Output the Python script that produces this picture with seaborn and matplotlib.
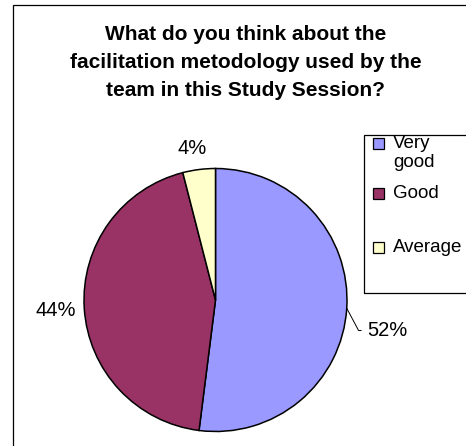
import numpy as np
import matplotlib
matplotlib.use("Agg")
import matplotlib.pyplot as plt
from matplotlib.patches import Rectangle
import seaborn as sns

# survey answers
categories = ["Very\ngood", "Good", "Average"]
shares = [52, 44, 4]
pct_labels = ["52%", "44%", "4%"]
colors = ["#9999FF", "#993366", "#FFFFCC"]

title = "What do you think about the\nfacilitation metodology used by the\nteam in this Study Session?"

sns.set_style("white")
plt.rcParams['font.family'] = ['Liberation Sans', 'DejaVu Sans']
plt.rcParams['text.color'] = 'black'

W, H = 466, 446
fig = plt.figure(figsize=(W / 100, H / 100), dpi=100)
ax = fig.add_axes([0, 0, 1, 1])

# pie: center (215.5, 300) px, radius 131.5 px
cx, cy, R = 215.5, 300, 131.5
wedges, _ = ax.pie(shares, colors=colors, startangle=90, counterclock=False,
                   wedgeprops=dict(edgecolor="black", linewidth=1.1))
ax.set_xlim(-cx / R, (W - cx) / R)
ax.set_ylim(-(H - cy) / R, cy / R)
ax.set_aspect("equal")
ax.axis("off")

# percentage labels
dist = [1.31, 1.22, 1.165]
offs = [(0, -0.15), (0, 0), (-0.03, 0)]
for i, w in enumerate(wedges):
    mid = np.deg2rad((w.theta1 + w.theta2) / 2)
    tx = dist[i] * np.cos(mid) + offs[i][0]
    ty = dist[i] * np.sin(mid) + offs[i][1]
    if i == 0:
        ax.annotate(pct_labels[i], xy=(np.cos(mid), np.sin(mid)), xytext=(tx, ty),
                    ha="center", va="center", fontsize=14.5, color="black",
                    arrowprops=dict(arrowstyle="-", color="black", lw=0.7,
                                    shrinkA=2, shrinkB=0, relpos=(0, 0.5),
                                    connectionstyle="angle,angleA=0,angleB=-62,rad=0"))
    else:
        ax.text(tx, ty, pct_labels[i], ha="center", va="center", fontsize=14.5,
                color="black")

# title
fig.text(246 / W, 1 - 62.5 / H, title, ha="center", va="center", color="black",
         fontsize=15, fontweight="bold", linespacing=1.62)

# chart border (only left/top visible)
fig.patches.append(Rectangle((13 / W, 1 - 470 / H), 600 / W, 465 / H,
                             transform=fig.transFigure, fill=False,
                             edgecolor="black", lw=0.9))

# legend frame + entries
fig.patches.append(Rectangle((364 / W, 1 - 293 / H), 200 / W, 158 / H,
                             transform=fig.transFigure, fill=False,
                             edgecolor="black", lw=0.9))
row_y = [143, 193, 247]
text_y = [153, 193, 247]
for lab, col, ry, ty in zip(categories, colors, row_y, text_y):
    fig.patches.append(Rectangle((373 / W, 1 - (ry + 5.5) / H), 11 / W, 11 / H,
                                 transform=fig.transFigure, facecolor=col,
                                 edgecolor="black", lw=0.9))
    fig.text(393 / W, 1 - ty / H, lab, ha="left", va="center", fontsize=13.5,
             color="black", linespacing=1.2)

fig.savefig("out.png", dpi=100)
